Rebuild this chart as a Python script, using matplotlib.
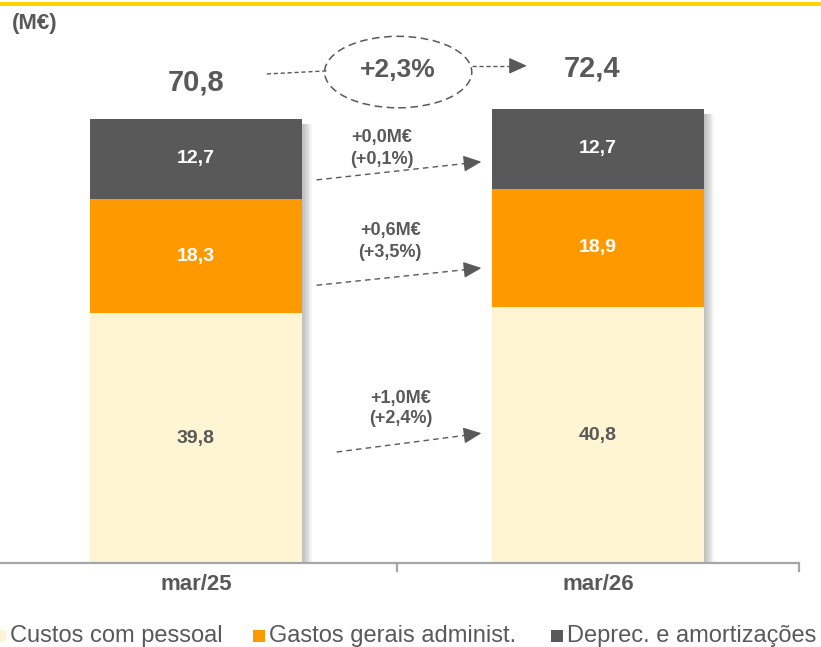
import matplotlib
matplotlib.use("Agg")
import matplotlib.pyplot as plt
from matplotlib.patches import Ellipse, Rectangle
import numpy as np

# --------------------- Data ---------------------
periods = ["mar/25", "mar/26"]
series_names = ["Custos com pessoal", "Gastos gerais administ.", "Deprec. e amortizações"]
custos_pessoal = [39.8, 40.8]
gastos_gerais = [18.3, 18.9]
deprec_amort = [12.7, 12.7]
totals = [70.8, 72.4]
total_change = "+2,3%"
delta_abs = ["+1,0M€", "+0,6M€", "+0,0M€"]
delta_pct = ["(+2,4%)", "(+3,5%)", "(+0,1%)"]

# --------------------- Style --------------------
COLORS = ["#FFF5D3", "#FF9900", "#595959"]
LABEL_COLORS = ["#595959", "white", "white"]
GRAY = "#595959"
AXIS_GRAY = "#A6A6A6"
YELLOW = "#FFD200"
plt.rcParams["font.family"] = ["Liberation Sans", "DejaVu Sans"]

W, H = 821, 647
PX = 6.27  # pixels per M€
fig = plt.figure(figsize=(W / 100, H / 100), dpi=100)
# axes: baseline at y=563 px, top of figure at y=0; categories 402 px wide
ax = fig.add_axes([-5 / W, (H - 563) / H, 804 / W, 563 / H])
ax.set_xlim(-0.5, 1.5)
ax.set_ylim(0, 563 / PX)
ax.axis("off")


def dashed_arrow(start, end, dash=(4, 3), head_px=15):
    """Dashed shaft + solid filled triangular head (in data coords)."""
    p0 = ax.transData.transform(start)
    p1 = ax.transData.transform(end)
    d = (p1 - p0) / np.hypot(*(p1 - p0))
    pm = ax.transData.inverted().transform(p1 - d * head_px)
    ax.plot([start[0], pm[0]], [start[1], pm[1]], color=GRAY, lw=1.0, ls=(0, dash),
            clip_on=False)
    ax.annotate("", xy=end, xytext=pm, annotation_clip=False,
                arrowprops=dict(arrowstyle="-|>,head_length=1.0,head_width=0.45",
                                mutation_scale=11, color=GRAY, lw=1.0,
                                shrinkA=0, shrinkB=0))


x = np.arange(len(periods))
bar_w = 0.527
stack = [custos_pessoal, gastos_gerais, deprec_amort]

# soft shadow on the right of each bar
for xi, tot in zip(x, totals):
    for k in range(8):
        ax.add_patch(Rectangle((xi + bar_w / 2 - 0.004, -0.3), 0.004 + k * 0.0035, tot - 0.5,
                               color="black", alpha=0.04, lw=0, zorder=1))

bottom = np.zeros(len(periods))
for vals, col, lcol in zip(stack, COLORS, LABEL_COLORS):
    vals = np.array(vals)
    ax.bar(x, vals, bar_w, bottom=bottom, color=col, edgecolor="none", zorder=2)
    for xi, b, v in zip(x, bottom, vals):
        ax.text(xi, b + v / 2, f"{v:.1f}".replace(".", ","), ha="center", va="center",
                fontsize=14, fontweight="bold", color=lcol, zorder=3)
    bottom = bottom + vals

# totals above bars
for xi, tot, dx, dy in zip(x, totals, [0.0, -0.015], [5.9, 6.4]):
    ax.text(xi + dx, tot + dy, f"{tot:.1f}".replace(".", ","), ha="center", va="center",
            fontsize=21, fontweight="bold", color=GRAY, clip_on=False)

# total change bubble
ax.add_patch(Ellipse((0.503, 78.3), 0.366, 11.4, fill=False, edgecolor=GRAY,
                     lw=1.1, ls=(0, (5, 3)), clip_on=False))
ax.text(0.503, 78.6, total_change, ha="center", va="center", fontsize=19,
        fontweight="bold", color=GRAY)
ax.plot([0.176, 0.33], [78.0, 78.5], color=GRAY, lw=1.0, ls=(0, (3, 2)))
dashed_arrow((0.686, 79.3), (0.823, 79.3), dash=(3, 2), head_px=14)

# segment change arrows (start, end in data coords) and labels
arrow_pos = [((0.35, 17.7), (0.71, 20.7)), ((0.30, 44.3), (0.71, 47.05)), ((0.30, 61.1), (0.71, 64.0))]
label_pos = [(0.51, 26.3, 23.1), (0.483, 53.1, 49.5), (0.462, 67.8, 64.4)]
for (s, e), (lx, ly1, ly2), da, dp in zip(arrow_pos, label_pos, delta_abs, delta_pct):
    dashed_arrow(s, e)
    ax.text(lx, ly1, da, ha="center", va="center", fontsize=13, fontweight="bold", color=GRAY)
    ax.text(lx, ly2, dp, ha="center", va="center", fontsize=13, fontweight="bold", color=GRAY)

# category axis line with ticks
ax.plot([-0.5, 1.5], [0, 0], color=AXIS_GRAY, lw=1.6, clip_on=False, zorder=4,
        solid_capstyle="butt")
for tx in [0.5, 1.5]:
    ax.plot([tx, tx], [0, -8 / PX], color=AXIS_GRAY, lw=1.6, clip_on=False, zorder=4)
for xi, p in zip(x, periods):
    fig.text(((xi + 0.5) * 402 - 5) / W, 1 - 585 / H, p, ha="center", va="center",
             fontsize=16, fontweight="bold", color=GRAY)

# unit label and yellow top rule
fig.text(12 / W, 1 - 24 / H, "(M€)", ha="left", va="center", fontsize=16,
         fontweight="bold", color=GRAY)
fig.patches.append(Rectangle((0, 1 - 5.5 / H), 1, 3.5 / H, transform=fig.transFigure,
                             color=YELLOW, lw=0))

# legend at the bottom
leg_x = [-6, 253, 551]
for lx, name, col in zip(leg_x, series_names, COLORS):
    fig.patches.append(Rectangle((lx / W, 1 - 642 / H), 12 / W, 12 / H,
                                 transform=fig.transFigure, color=col, lw=0))
    fig.text((lx + 16) / W, 1 - 636 / H, name, ha="left", va="center", fontsize=17,
             color=GRAY)

fig.savefig("out.png", dpi=100)
